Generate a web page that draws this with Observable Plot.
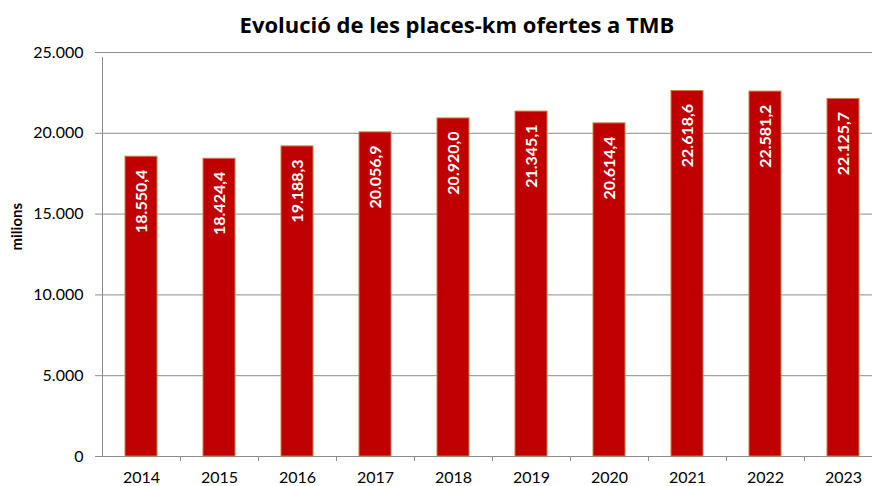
<!DOCTYPE html>
<html>
<head>
<meta charset="utf-8">
<script src="https://cdn.jsdelivr.net/npm/d3@7"></script>
<script src="https://cdn.jsdelivr.net/npm/@observablehq/plot@0.6"></script>
<style>
  html, body { margin: 0; padding: 0; background: #fff; }
  #wrap { position: relative; width: 872px; height: 486px; overflow: hidden; font-family: Lato, "Open Sans", sans-serif; }
  #title { position: absolute; left: 42px; top: 9px; width: 830px; text-align: center; font-family: "Open Sans", Lato, sans-serif; font-weight: 700; font-size: 22px; color: #000; line-height: 30px; z-index: 2; }
  #chart { position: absolute; left: 0; top: 30px; z-index: 1; }
</style>
</head>
<body>
<div id="wrap">
  <div id="chart"></div>
  <div id="title">Evolució de les places-km ofertes a TMB</div>
</div>
<script>
const years = ["2014","2015","2016","2017","2018","2019","2020","2021","2022","2023"];
const placesKm = [18550.4, 18424.4, 19188.3, 20056.9, 20920.0, 21345.1, 20614.4, 22618.6, 22581.2, 22125.7];
const yTicks = [0, 5000, 10000, 15000, 20000, 25000];
const yLabel = "milions";

const loc = d3.formatLocale({decimal: ",", thousands: ".", grouping: [3], currency: ["", "€"]});
const fmtVal = loc.format(",.1f");
const fmtTick = loc.format(",.0f");

const data = years.map((y, i) => ({year: y, value: placesKm[i]}));

const gray = "#8c8c8c";
const chart = Plot.plot({
  width: 872,
  height: 456,
  marginTop: 22,
  marginBottom: 30,
  marginLeft: 100,
  marginRight: 0,
  style: {fontFamily: "Lato, 'Open Sans', sans-serif", fontSize: "16px", color: "#000", background: "transparent", overflow: "visible"},
  x: {domain: years, range: [101.5, 881.5], paddingInner: 0.59, paddingOuter: 0.295},
  y: {domain: [0, 25000]},
  marks: [
    Plot.ruleY(yTicks, {stroke: gray, strokeWidth: 1, strokeOpacity: 1}),
    Plot.ruleX([years[0]], {x: d => d, y1: 0, y2: 25000, dx: -39, insetBottom: -5, stroke: gray, strokeOpacity: 1}),
    Plot.ruleX(years, {x: d => d, y1: 0, y2: 0, dx: 39, insetBottom: -5, stroke: gray, strokeOpacity: 1}),
    Plot.axisY({ticks: yTicks, tickFormat: fmtTick, tickSize: 5, tickPadding: 12, stroke: gray, strokeOpacity: 1, label: null, fontSize: 16, fill: "#000"}),
    Plot.axisX({tickSize: 0, tickPadding: 15, label: null, fontSize: 16, fill: "#000"}),
    Plot.barY(data, {x: "year", y: "value", fill: "#c00000", stroke: "#c8804a", strokeWidth: 1}),
    Plot.text(data, {x: "year", y: "value", text: d => fmtVal(d.value), rotate: -90, textAnchor: "end", lineAnchor: "middle", dy: 13, fill: "#fff", fontWeight: 700, fontSize: 16}),
    Plot.text([yLabel], {text: d => d, frameAnchor: "left", dx: -83, dy: -4, rotate: -90, fontWeight: 700, fontSize: 15, fill: "#000"})
  ]
});
document.getElementById("chart").appendChild(chart);
</script>
</body>
</html>
